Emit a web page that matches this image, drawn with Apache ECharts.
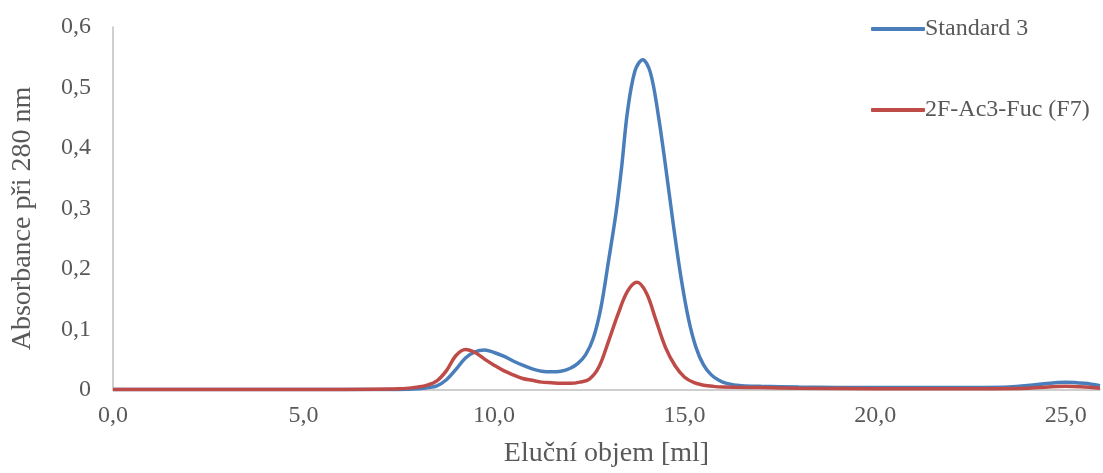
<!DOCTYPE html>
<html>
<head>
<meta charset="utf-8">
<script src="https://cdn.jsdelivr.net/npm/echarts@6/dist/echarts.min.js"></script>
<style>html,body{margin:0;padding:0;background:#fff}#c{width:1103px;height:473px}</style>
</head>
<body>
<div id="c"></div>
<script>
const seriesNames = ['Standard 3', '2F-Ac3-Fuc (F7)'];
const xTitle = 'Eluční objem [ml]';
const yTitle = 'Absorbance při 280 nm';

const blueX = [0, 2, 4, 6, 7.5, 8.0, 8.25, 8.5, 8.75, 9.0, 9.25, 9.5, 9.75, 10.0, 10.25, 10.5, 10.75, 11.0, 11.25, 11.5, 11.75, 12.0, 12.2, 12.4, 12.6, 12.8, 13.0, 13.2, 13.35, 13.5, 13.7, 13.9, 14.1, 14.3, 14.5, 14.7, 14.9, 15.1, 15.3, 15.5, 15.7, 15.9, 16.1, 16.5, 17, 18, 20, 22, 23.5, 24.25, 25.0, 25.5, 25.9];
const blueY = [0.001, 0.001, 0.001, 0.001, 0.001, 0.002, 0.004, 0.007, 0.017, 0.034, 0.053, 0.063, 0.066, 0.062, 0.056, 0.048, 0.041, 0.035, 0.031, 0.030, 0.031, 0.036, 0.044, 0.058, 0.085, 0.135, 0.212, 0.293, 0.370, 0.460, 0.528, 0.546, 0.525, 0.458, 0.370, 0.275, 0.188, 0.118, 0.070, 0.041, 0.025, 0.016, 0.011, 0.007, 0.006, 0.005, 0.004, 0.004, 0.005, 0.009, 0.013, 0.011, 0.007];

const redX = [0, 2, 4, 6, 7.5, 8.0, 8.25, 8.5, 8.75, 9.0, 9.25, 9.5, 9.75, 10.0, 10.25, 10.5, 10.75, 11.0, 11.25, 11.5, 11.75, 12.0, 12.25, 12.5, 12.75, 13.0, 13.25, 13.5, 13.75, 14.0, 14.25, 14.5, 14.75, 15.0, 15.25, 15.5, 15.75, 16.0, 17, 18, 20, 22, 24, 25.0, 25.9];
const redY = [0.001, 0.001, 0.001, 0.001, 0.002, 0.005, 0.008, 0.015, 0.032, 0.057, 0.067, 0.062, 0.051, 0.041, 0.032, 0.025, 0.019, 0.016, 0.013, 0.012, 0.011, 0.011, 0.013, 0.018, 0.038, 0.080, 0.125, 0.163, 0.178, 0.160, 0.115, 0.070, 0.040, 0.021, 0.012, 0.008, 0.006, 0.005, 0.004, 0.003, 0.002, 0.002, 0.003, 0.006, 0.003];

const colors = ['#4a7ebb', '#be4b48'];
const font = '"Liberation Serif", "Times New Roman", serif';
const txt = '#595959';

function pairs(xs, ys) { return xs.map((x, i) => [x, ys[i]]); }

const chart = echarts.init(document.getElementById('c'));
chart.setOption({
  animation: false,
  grid: { left: 113, right: 0, top: 27, bottom: 80, containLabel: false },
  legend: {
    orient: 'vertical',
    left: 866, top: 12,
    itemWidth: 54, itemHeight: 4, itemGap: 57,
    icon: 'roundRect',
    textStyle: { fontFamily: font, fontSize: 24, color: txt, padding: [0, 0, 0, -5] },
    data: seriesNames
  },
  xAxis: {
    type: 'value', min: 0, max: 25.9, interval: 5,
    name: xTitle, nameLocation: 'middle', nameGap: 50,
    nameTextStyle: { fontFamily: font, fontSize: 28, color: txt },
    axisLine: { show: true, lineStyle: { color: '#bfbfbf', width: 1.5 } },
    axisTick: { show: false },
    splitLine: { show: false },
    axisLabel: {
      fontFamily: font, fontSize: 24, color: txt, margin: 14,
      formatter: v => (Math.abs(v % 5) < 1e-9 ? v.toFixed(1).replace('.', ',') : '')
    }
  },
  yAxis: {
    type: 'value', min: 0, max: 0.6, interval: 0.1,
    name: yTitle, nameLocation: 'middle', nameGap: 76,
    nameTextStyle: { fontFamily: font, fontSize: 28, color: txt, padding: [0, 20, 0, 0] },
    axisLine: { show: true, lineStyle: { color: '#bfbfbf', width: 1.5 } },
    axisTick: { show: false },
    splitLine: { show: false },
    axisLabel: {
      fontFamily: font, fontSize: 24, color: txt, margin: 22,
      formatter: v => (v === 0 ? '0' : v.toFixed(1).replace('.', ','))
    }
  },
  series: [
    { name: seriesNames[0], type: 'line', data: pairs(blueX, blueY), smooth: 0.35, showSymbol: false, symbol: 'none',
      lineStyle: { color: colors[0], width: 3.5 }, itemStyle: { color: colors[0] } },
    { name: seriesNames[1], type: 'line', data: pairs(redX, redY), smooth: 0.35, showSymbol: false, symbol: 'none',
      lineStyle: { color: colors[1], width: 3.5 }, itemStyle: { color: colors[1] } }
  ]
});
</script>
</body>
</html>
